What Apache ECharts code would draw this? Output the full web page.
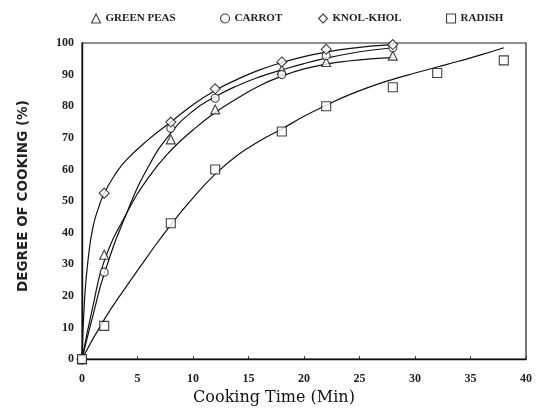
<!DOCTYPE html>
<html>
<head>
<meta charset="utf-8">
<script src="https://cdn.jsdelivr.net/npm/echarts@6/dist/echarts.min.js"></script>
<style>
html,body{margin:0;padding:0;background:#fff;}
#chart{width:543px;height:411px;}
</style>
</head>
<body>
<div id="chart"></div>
<script>
// Measured cooking degree (%) at sampled cooking times (min)
var sampleTimes = [0, 2, 8, 12, 18, 22, 28];
var greenPeas = [0, 33, 69.5, 79, 91.5, 94, 96];
var carrot = [0, 27.5, 73, 82.5, 90, 96, 98.5];
var knolKhol = [0, 52.5, 75, 85.5, 94, 98, 99.5];
var radishTimes = [0, 2, 8, 12, 18, 22, 28, 32, 38];
var radish = [0, 10.5, 43, 60, 72, 80, 86, 90.5, 94.5];

// Fitted cooking curves, as [time, degree] pairs
var peasFit = [[0,0],[1,17],[2,31],[4,46],[6,57.5],[8,66],[10,72.5],[12,78],[14,82.5],[16,86.5],[18,89.5],[20,91.8],[22,93.3],[24,94.3],[26,95],[28,95.4]];
var carrotFit = [[0,0],[1,14],[2,27],[4,46],[6,61],[8,71.5],[10,78.5],[12,83],[14,86.5],[16,89.3],[18,91.5],[20,93.5],[22,95.2],[24,96.6],[26,97.7],[28,98.5]];
var knolFit = [[0,0],[0.25,20],[0.6,33],[1,42],[1.5,48],[2,52.5],[3,58.5],[4,63],[6,69.5],[8,75],[10,80.5],[12,85],[14,88.5],[16,91.5],[18,93.8],[20,95.7],[22,97.1],[24,98.2],[26,99],[28,99.5]];
var radishFit = [[0,0],[2,12.5],[4,23],[6,33],[8,42.5],[10,51],[12,58.5],[14,64.5],[16,69],[18,72.8],[20,76.8],[22,80.3],[24,83.5],[26,86.2],[28,88.5],[30,90.5],[32,92.4],[34,94.3],[36,96.3],[38,98.5]];

var xTicks = [0, 5, 10, 15, 20, 25, 30, 35, 40];
var yTicks = [0, 10, 20, 30, 40, 50, 60, 70, 80, 90, 100];

var legendNames = ['GREEN PEAS', 'CARROT', 'KNOL-KHOL', 'RADISH'];

function pairs(xs, ys) {
  return xs.map(function (x, i) { return [x, ys[i]]; });
}

var markStyle = { color: '#fff', borderColor: '#111', borderWidth: 1.1 };

function pointSeries(name, xs, ys, symbol, size) {
  return {
    name: name, type: 'scatter', data: pairs(xs, ys),
    symbol: symbol, symbolSize: size, itemStyle: markStyle, z: 5,
    silent: true
  };
}

function curveSeries(data) {
  return {
    type: 'line', data: data, showSymbol: false, smooth: 0.5,
    lineStyle: { color: '#111', width: 1.2 }, z: 3, silent: true
  };
}

function legendAt(name, left, icon) {
  return {
    data: [{ name: name, icon: icon }], left: left, top: 8,
    itemWidth: 9, itemHeight: 9, itemGap: 0,
    itemStyle: { color: '#fff', borderColor: '#111', borderWidth: 1.1 },
    textStyle: { fontFamily: 'Liberation Serif', fontWeight: 'bold', fontSize: 11, color: '#222' },
    selectedMode: false
  };
}

var chart = echarts.init(document.getElementById('chart'), null, { renderer: 'canvas' });
chart.setOption({
  animation: false,
  backgroundColor: '#fff',
  legend: [
    legendAt(legendNames[0], 86, 'triangle'),
    legendAt(legendNames[1], 215, 'circle'),
    legendAt(legendNames[2], 313, 'diamond'),
    legendAt(legendNames[3], 441, 'rect')
  ],
  grid: {
    left: 82, right: 17, top: 43, bottom: 48,
    show: true, borderColor: '#222', borderWidth: 1.2
  },
  xAxis: {
    type: 'value', min: 0, max: 40, interval: 5,
    axisLine: { lineStyle: { color: '#111', width: 1.4 } },
    axisTick: { show: true, inside: true, length: 3, lineStyle: { color: '#333' } },
    splitLine: { show: false },
    axisLabel: {
      margin: 14, color: '#222', fontFamily: 'Liberation Serif', fontWeight: 'bold', fontSize: 12,
      formatter: function (v) { return xTicks.indexOf(v) >= 0 ? String(v) : ''; }
    },
    name: 'Cooking Time (Min)', nameLocation: 'middle', nameGap: 30,
    nameTextStyle: { fontFamily: 'DejaVu Serif', fontSize: 16, color: '#111', padding: [0, 60, 0, 0] }
  },
  yAxis: {
    type: 'value', min: 0, max: 100, interval: 10,
    axisLine: { show: true, lineStyle: { color: '#111', width: 1.4 } },
    axisTick: { show: false },
    splitLine: { show: false },
    axisLabel: {
      margin: 8, color: '#222', fontFamily: 'Liberation Serif', fontWeight: 'bold', fontSize: 12,
      formatter: function (v) { return yTicks.indexOf(v) >= 0 ? String(v) : ''; }
    },
    name: 'DEGREE OF COOKING (%)', nameLocation: 'middle', nameGap: 52,
    nameTextStyle: { fontFamily: 'DejaVu Sans', fontWeight: 'bold', fontSize: 13.5, color: '#222', padding: [0, 0, 0, 10] }
  },
  series: [
    curveSeries(peasFit),
    curveSeries(carrotFit),
    curveSeries(knolFit),
    curveSeries(radishFit),
    pointSeries(legendNames[0], sampleTimes, greenPeas, 'triangle', 9),
    pointSeries(legendNames[1], sampleTimes, carrot, 'circle', 8),
    pointSeries(legendNames[2], sampleTimes, knolKhol, 'diamond', 10),
    pointSeries(legendNames[3], radishTimes, radish, 'rect', 9)
  ]
});
</script>
</body>
</html>
